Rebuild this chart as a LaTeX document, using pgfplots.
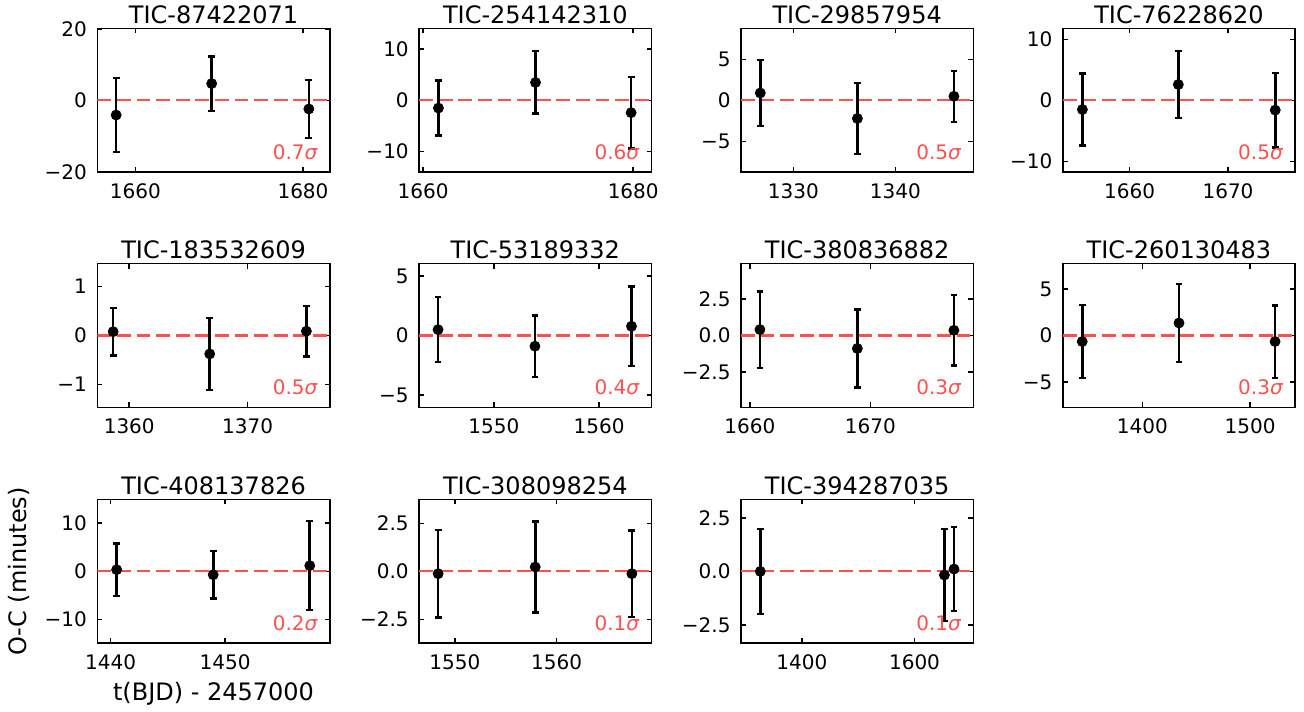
\documentclass[border=0pt]{standalone}
\usepackage{fontspec}
\setmainfont{DejaVu Sans}
\usepackage{pgfplots}
\pgfplotsset{compat=1.18}
\definecolor{myred}{RGB}{255,80,80}
\pgfplotsset{
  panel/.style={
    scale only axis, width=116.25pt, height=71.9pt, anchor=south west,
    axis line style={line width=0.8pt},
    tick align=inside, major tick length=2.5pt,
    every tick/.style={black, line width=0.8pt},
    minor tick num=0,
    tick label style={font=\fontsize{10}{12}\selectfont, inner sep=0pt},
    xticklabel style={anchor=base, yshift=-12.9pt},
    yticklabel style={anchor=east, xshift=-5pt},
    every axis title/.style={font=\fontsize{12}{14}\selectfont, at={(axis description cs:0.5,1)}, anchor=base, yshift=2.7pt, inner sep=0pt},
    clip=true,
  },
  zline/.style={myred, line width=1.1pt, dash pattern=on 6.9pt off 2.9pt, forget plot},
  pts/.style={black, mark=*, mark size=2.5pt, only marks,
    error bars/.cd, y dir=both, y explicit,
    error bar style={line width=1.3pt, black},
    error mark options={rotate=90, mark size=1.7pt, line width=1.2pt, black}},
}
\tikzset{
  sig/.style={at={(axis description cs:0.95,0)}, anchor=base east, yshift=6.4pt, inner sep=0pt, text=myred, font=\fontsize{10}{12}\selectfont},
}
\begin{document}
\begin{tikzpicture}
\useasboundingbox (0,0) rectangle (652pt,355.5pt);
% Row 1
\begin{axis}[panel, at={(48.65pt,269.35pt)}, title={TIC-87422071},
  xmin=1655.45, xmax=1683.2, ymin=-20.1, ymax=20.1,
  xtick={1660,1680}, xticklabels={1660,1680},
  ytick={-20,0,20}, yticklabels={−20,0,20}]
\addplot[zline] coordinates {(1655.45,0) (1683.2,0)};
\addplot[pts] table[x=x,y=y,y error=e] {
x y e
1657.7 -4.1 10.3
1669.1 4.7 7.6
1680.7 -2.4 8.1
};
\node[sig] {0.7\textit{σ}};
\end{axis}
\begin{axis}[panel, at={(209.55pt,269.35pt)}, title={TIC-254142310},
  xmin=1659.62, xmax=1681.75, ymin=-14.05, ymax=14.05,
  xtick={1660,1680}, xticklabels={1660,1680},
  ytick={-10,0,10}, yticklabels={−10,0,10}]
\addplot[zline] coordinates {(1659.62,0) (1681.75,0)};
\addplot[pts] table[x=x,y=y,y error=e] {
x y e
1661.46 -1.5 5.4
1670.7 3.5 6.1
1679.8 -2.4 7.0
};
\node[sig] {0.6\textit{σ}};
\end{axis}
\begin{axis}[panel, at={(370.45pt,269.35pt)}, title={TIC-29857954},
  xmin=1324.86, xmax=1347.64, ymin=-8.75, ymax=8.75,
  xtick={1330,1340}, xticklabels={1330,1340},
  ytick={-5,0,5}, yticklabels={−5,0,5}]
\addplot[zline] coordinates {(1324.86,0) (1347.64,0)};
\addplot[pts] table[x=x,y=y,y error=e] {
x y e
1326.76 0.9 4.0
1336.27 -2.2 4.3
1345.73 0.5 3.1
};
\node[sig] {0.5\textit{σ}};
\end{axis}
\begin{axis}[panel, at={(531.35pt,269.35pt)}, title={TIC-76228620},
  xmin=1653.2, xmax=1676.83, ymin=-11.8, ymax=11.8,
  xtick={1660,1670}, xticklabels={1660,1670},
  ytick={-10,0,10}, yticklabels={−10,0,10}]
\addplot[zline] coordinates {(1653.2,0) (1676.83,0)};
\addplot[pts] table[x=x,y=y,y error=e] {
x y e
1655.2 -1.5 5.9
1664.95 2.6 5.5
1674.8 -1.6 6.1
};
\node[sig] {0.5\textit{σ}};
\end{axis}
% Row 2
\begin{axis}[panel, at={(48.65pt,151.75pt)}, title={TIC-183532609},
  xmin=1357.3, xmax=1376.95, ymin=-1.47, ymax=1.47,
  xtick={1360,1370}, xticklabels={1360,1370},
  ytick={-1,0,1}, yticklabels={−1,0,1}]
\addplot[zline] coordinates {(1357.3,0) (1376.95,0)};
\addplot[pts] table[x=x,y=y,y error=e] {
x y e
1358.64 0.08 0.49
1366.8 -0.375 0.735
1374.97 0.09 0.52
};
\node[sig] {0.5\textit{σ}};
\end{axis}
\begin{axis}[panel, at={(209.55pt,151.75pt)}, title={TIC-53189332},
  xmin=1542.9, xmax=1564.98, ymin=-6.03, ymax=6.03,
  xtick={1550,1560}, xticklabels={1550,1560},
  ytick={-5,0,5}, yticklabels={−5,0,5}]
\addplot[zline] coordinates {(1542.9,0) (1564.98,0)};
\addplot[pts] table[x=x,y=y,y error=e] {
x y e
1544.7 0.5 2.72
1553.9 -0.89 2.57
1563.07 0.78 3.35
};
\node[sig] {0.4\textit{σ}};
\end{axis}
\begin{axis}[panel, at={(370.45pt,151.75pt)}, title={TIC-380836882},
  xmin=1659.25, xmax=1678.56, ymin=-4.9, ymax=4.9,
  xtick={1660,1670}, xticklabels={1660,1670},
  ytick={-2.5,0,2.5}, yticklabels={−2.5,0.0,2.5}]
\addplot[zline] coordinates {(1659.25,0) (1678.56,0)};
\addplot[pts] table[x=x,y=y,y error=e] {
x y e
1660.83 0.41 2.6
1668.92 -0.88 2.65
1676.94 0.36 2.4
};
\node[sig] {0.3\textit{σ}};
\end{axis}
\begin{axis}[panel, at={(531.35pt,151.75pt)}, title={TIC-260130483},
  xmin=1326.1, xmax=1541.8, ymin=-7.75, ymax=7.75,
  xtick={1400,1500}, xticklabels={1400,1500},
  ytick={-5,0,5}, yticklabels={−5,0,5}]
\addplot[zline] coordinates {(1326.1,0) (1541.8,0)};
\addplot[pts] table[x=x,y=y,y error=e] {
x y e
1344.2 -0.64 3.96
1434.0 1.36 4.2
1523.1 -0.64 3.9
};
\node[sig] {0.3\textit{σ}};
\end{axis}
% Row 3
\begin{axis}[panel, at={(48.65pt,33.85pt)}, title={TIC-408137826},
  xmin=1438.83, xmax=1459.15, ymin=-14.9, ymax=14.9,
  xtick={1440,1450}, xticklabels={1440,1450},
  ytick={-10,0,10}, yticklabels={−10,0,10},
  xlabel={t(BJD) - 2457000}, ylabel={O-C (minutes)},
  xlabel style={at={(axis description cs:0.5,0)}, anchor=base, yshift=-28.6pt, inner sep=0pt, font=\fontsize{12}{14}\selectfont},
  ylabel style={at={(axis description cs:-0.336,0.5)}, anchor=center, inner sep=0pt, font=\fontsize{12}{14}\selectfont}]
\addplot[zline] coordinates {(1438.83,0) (1459.15,0)};
\addplot[pts] table[x=x,y=y,y error=e] {
x y e
1440.52 0.35 5.4
1448.96 -0.69 4.9
1457.4 1.19 9.25
};
\node[sig] {0.2\textit{σ}};
\end{axis}
\begin{axis}[panel, at={(209.55pt,33.85pt)}, title={TIC-308098254},
  xmin=1546.49, xmax=1569.34, ymin=-3.75, ymax=3.75,
  xtick={1550,1560}, xticklabels={1550,1560},
  ytick={-2.5,0,2.5}, yticklabels={−2.5,0.0,2.5}]
\addplot[zline] coordinates {(1546.49,0) (1569.34,0)};
\addplot[pts] table[x=x,y=y,y error=e] {
x y e
1548.36 -0.12 2.28
1557.9 0.23 2.37
1567.4 -0.12 2.25
};
\node[sig] {0.1\textit{σ}};
\end{axis}
\begin{axis}[panel, at={(370.45pt,33.85pt)}, title={TIC-394287035},
  xmin=1291.9, xmax=1704.5, ymin=-3.36, ymax=3.36,
  xtick={1400,1600}, xticklabels={1400,1600},
  ytick={-2.5,0,2.5}, yticklabels={−2.5,0.0,2.5}]
\addplot[zline] coordinates {(1291.9,0) (1704.5,0)};
\addplot[pts] table[x=x,y=y,y error=e] {
x y e
1326.3 0.0 1.98
1653.0 -0.17 2.15
1670.1 0.11 1.96
};
\node[sig] {0.1\textit{σ}};
\end{axis}
\end{tikzpicture}
\end{document}
